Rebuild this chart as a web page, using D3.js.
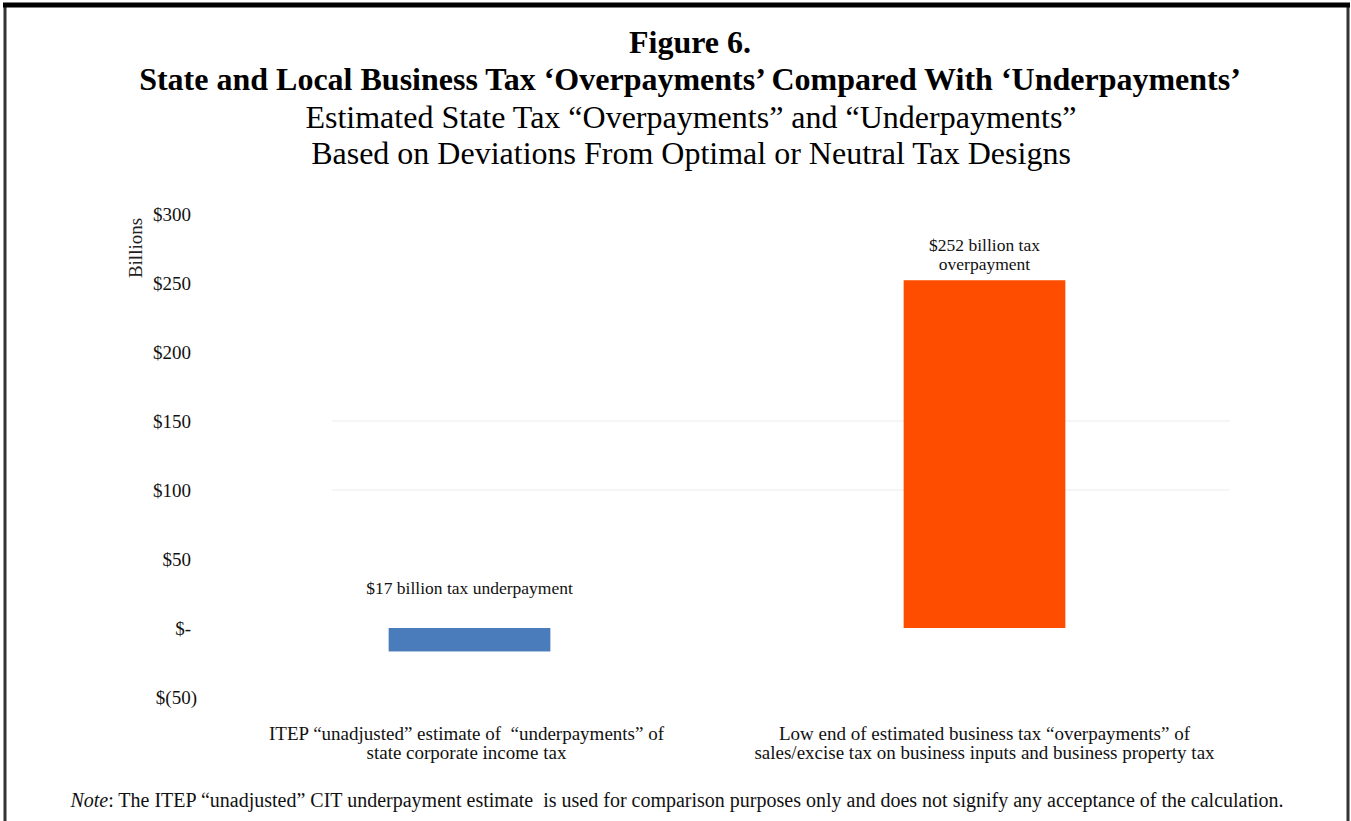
<!DOCTYPE html>
<html><head><meta charset="utf-8">
<script src="https://cdn.jsdelivr.net/npm/d3@7"></script>
<style>body{margin:0;background:#fff;}svg{display:block;font-family:"Liberation Serif","Times New Roman",serif;}text{white-space:pre;}</style>
</head><body>
<script>
const categories = [
  ["ITEP \u201cunadjusted\u201d estimate of  \u201cunderpayments\u201d of", "state corporate income tax"],
  ["Low end of estimated business tax \u201coverpayments\u201d of", "sales/excise tax on business inputs and business property tax"]
];
const values = [-17, 252];
const barLabels = [["$17 billion tax underpayment"], ["$252 billion tax", "overpayment"]];
const barColors = ["#4a7cbc", "#ff4d00"];
const tickValues = [-50, 0, 50, 100, 150, 200, 250, 300];
const tickLabels = ["$(50)", "$-", "$50", "$100", "$150", "$200", "$250", "$300"];
const gridValues = [100, 150];
const titleLines = ["Figure 6.", "State and Local Business Tax \u2018Overpayments\u2019 Compared With \u2018Underpayments\u2019"];
const subtitleLines = ["Estimated State Tax \u201cOverpayments\u201d and \u201cUnderpayments\u201d", "Based on Deviations From Optimal or Neutral Tax Designs"];

const W = 1351, H = 821;
const svg = d3.select("body").append("svg").attr("width", W).attr("height", H);

// frame
svg.append("rect").attr("x", 0).attr("y", 0).attr("width", W).attr("height", H).attr("fill", "#fff");
svg.append("line").attr("x1", 5).attr("x2", 5).attr("y1", 4).attr("y2", H).attr("stroke", "#333").attr("stroke-width", 3);
svg.append("line").attr("x1", 1348).attr("x2", 1348).attr("y1", 4).attr("y2", H).attr("stroke", "#333").attr("stroke-width", 3);
svg.append("line").attr("x1", 3).attr("x2", 1350).attr("y1", 5).attr("y2", 5).attr("stroke", "#000").attr("stroke-width", 5);

// titles
const tY = [53, 90];
titleLines.forEach((t, i) => svg.append("text").attr("x", 690).attr("y", tY[i]).attr("text-anchor", "middle")
  .attr("font-weight", "bold").attr("font-size", 32).attr("fill", "#000").text(t));
const sY = [128, 164];
subtitleLines.forEach((t, i) => svg.append("text").attr("x", 691).attr("y", sY[i]).attr("text-anchor", "middle")
  .attr("font-size", 32).attr("fill", "#000").text(t));

const y = d3.scaleLinear().domain([-50, 300]).range([697, 214]);
const x = d3.scaleBand().domain(d3.range(values.length)).range([212, 1242]).paddingInner(0.686).paddingOuter(0.343);

// gridlines
svg.append("g").selectAll("line").data(gridValues).join("line")
  .attr("x1", 332).attr("x2", 1230).attr("y1", d => y(d)).attr("y2", d => y(d))
  .attr("stroke", "#ececec").attr("stroke-width", 1);

// y axis
const yAxis = d3.axisLeft(y).tickValues(tickValues).tickSize(0).tickPadding(0)
  .tickFormat((d, i) => tickLabels[i]);
const gy = svg.append("g").attr("transform", "translate(191,0)").call(yAxis);
gy.select(".domain").remove();
gy.selectAll("text").attr("font-family", "Liberation Serif").attr("font-size", 19).attr("fill", "#111")
  .attr("dx", d => d < 0 ? 6 : 0);

svg.append("text").attr("transform", "translate(142,248) rotate(-90)").attr("text-anchor", "middle")
  .attr("font-size", 19).attr("fill", "#222").text("Billions");

// bars
svg.append("g").selectAll("rect").data(values).join("rect")
  .attr("x", (d, i) => x(i)).attr("width", x.bandwidth())
  .attr("y", d => y(Math.max(0, d))).attr("height", d => Math.abs(y(d) - y(0)))
  .attr("fill", (d, i) => barColors[i]);

// bar labels
values.forEach((v, i) => {
  const lines = barLabels[i];
  const cx = x(i) + x.bandwidth() / 2;
  const base = v >= 0 ? y(v) - 10 - (lines.length - 1) * 19 : y(0) - 34;
  lines.forEach((l, j) => svg.append("text").attr("x", cx).attr("y", base + j * 19).attr("text-anchor", "middle")
    .attr("font-size", 17.5).attr("fill", "#111").text(l));
});

// category labels
categories.forEach((c, i) => {
  const cx = x(i) + x.bandwidth() / 2 - (i === 0 ? 3 : 0);
  c.forEach((l, j) => svg.append("text").attr("x", cx).attr("y", 740 + j * 19).attr("text-anchor", "middle")
    .attr("font-size", 19).attr("fill", "#111").text(l));
});

// note
const note = svg.append("text").attr("x", 677).attr("y", 807).attr("text-anchor", "middle").attr("font-size", 20).attr("fill", "#111");
note.append("tspan").attr("font-style", "italic").text("Note");
note.append("tspan").text(": The ITEP \u201cunadjusted\u201d CIT underpayment estimate  is used for comparison purposes only and does not signify any acceptance of the calculation.");
</script>
</body></html>
